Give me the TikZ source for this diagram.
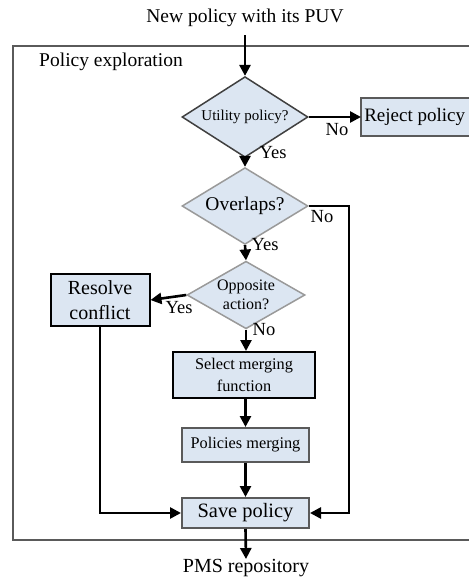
\documentclass[tikz,border=0pt]{standalone}
\usepackage{fontspec}
\setmainfont{Liberation Serif}
\usetikzlibrary{arrows.meta,shapes.geometric}
\definecolor{boxfill}{HTML}{DCE6F2}
\definecolor{darkgray}{HTML}{404040}
\definecolor{midgray}{HTML}{5A5A5A}
\definecolor{ltgray}{HTML}{9A9A9A}
\newcommand{\fs}[2]{\fontsize{#1}{#2}\selectfont}
\begin{document}
\begin{tikzpicture}[x=1pt,y=-1pt,
  arr/.style={line width=2.6pt,-{Triangle[length=11pt,width=11pt]}},
  dia/.style={diamond,draw=#1,fill=boxfill,line width=1.5pt,inner sep=-5pt,align=center},
  blackbox/.style={rectangle,draw=black,fill=boxfill,line width=2pt,align=center,inner sep=0pt},
  graybox/.style={rectangle,draw=midgray,fill=boxfill,line width=2pt,align=center,inner sep=0pt},
  lbl/.style={font=\fs{18.5}{20},inner sep=0pt},
  txt/.style={inner sep=0pt}
]
\useasboundingbox (0,0) rectangle (469,579);
\fill[white] (0,0) rectangle (469,579);
% frame
\draw[midgray,line width=1.5pt] (13,46) rectangle (485,540);
\node[txt,font=\fs{19.5}{22}] (expl) at (111,62) {Policy exploration};
% title
\node[txt,font=\fs{19.5}{22}] (title) at (245,18) {New policy with its PUV};
% decisions
\node[dia=darkgray,minimum width=126,minimum height=55,font=\fs{15}{17}] (d1) at (245,117) {Utility policy?};
\node[dia=ltgray,minimum width=126,minimum height=58,font=\fs{19.5}{22}] (d2) at (245,206) {Overlaps?};
\node[dia=ltgray,minimum width=118,minimum height=56,font=\fs{16}{19}] (d3) at (246,295) {Opposite\\action?};
% boxes
\fill[boxfill] (361,98) rectangle (485,136);
\node[rectangle,fill=boxfill,inner sep=0pt,anchor=west,minimum width=107,minimum height=38,font=\fs{19}{22}] (reject) at (361,117) {Reject policy};
\draw[midgray,line width=2pt] ([xshift=24pt]reject.north east) -- (reject.north west) -- (reject.south west) -- ([xshift=24pt]reject.south east);
\node[blackbox,minimum width=99,minimum height=52,font=\fs{20}{25}] (resolve) at (100,300) {Resolve\\conflict};
\node[blackbox,minimum width=142,minimum height=46,font=\fs{16.3}{22}] (select) at (244,375) {Select merging\\function};
\node[graybox,minimum width=127,minimum height=34,font=\fs{16.3}{19}] (merge) at (245.5,445) {Policies merging};
\node[graybox,minimum width=127,minimum height=30,font=\fs{20.4}{23}] (save) at (245.5,513) {Save policy};
\node[txt,font=\fs{20}{22}] (pms) at (246,568) {PMS repository};
% labels
\node[lbl] (no1) at (337,130) {No};
\node[lbl] (yes1) at (273,153) {Yes};
\node[lbl] (no2) at (322,217) {No};
\node[lbl] (yes2) at (265,245) {Yes};
\node[lbl] (yes3) at (179,308) {Yes};
\node[lbl] (no3) at (264,330) {No};
% coordinates
\coordinate (rt) at (349,206);
\coordinate (rb) at (349,513);
\coordinate (lb) at (100,513);
\coordinate (tstart) at (245,35);
% connectors
\draw[arr] (tstart) -- (d1.north);
\draw[arr] (d1.east) -- (reject.west);
\draw[arr] (d1.south) -- (d2.north);
\draw[arr] (d2.east) -- (rt) -- (rb) -- (save.east);
\draw[arr] (d2.south) -- (d3.north);
\draw[arr] (d3.west) -- (resolve.east);
\draw[arr] (d3.south) -- (d3.south |- select.north);
\draw[arr] (select.south -| merge.north) -- (merge.north);
\draw[arr] (merge.south) -- (save.north);
\draw[arr] (resolve.south) -- (lb) -- (save.west);
\draw[arr] (save.south) -- (pms.north);
\end{tikzpicture}
\end{document}
